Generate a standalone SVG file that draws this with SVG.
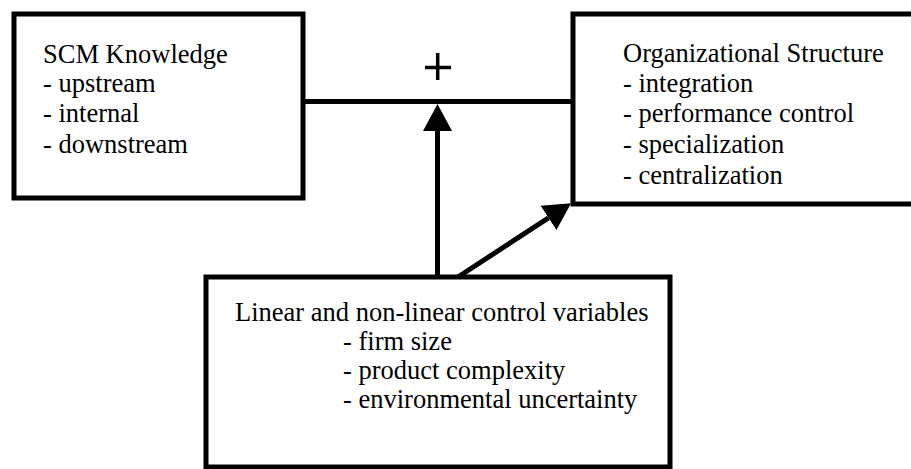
<svg xmlns="http://www.w3.org/2000/svg" width="911" height="469" viewBox="0 0 911 469">
  <defs>
    <style>
      .box { fill: #fff; stroke: #000; stroke-width: 5; }
      .lbl { font-family: "Liberation Serif", "Times New Roman", serif; font-size: 26.5px; fill: #000; }
      .wire { stroke: #000; stroke-width: 5; fill: none; }
      .plus { stroke: #000; stroke-width: 3.5; fill: none; }
    </style>
    <marker id="head" markerUnits="userSpaceOnUse" markerWidth="30" markerHeight="32" viewBox="0 -16 30 32" refX="0" refY="0" orient="auto">
      <path d="M0,-14.5 L27,0 L0,14.5 Z" fill="#000"/>
    </marker>
  </defs>
  <rect width="911" height="469" fill="#fff"/>

  <g id="connectors">
    <!-- link between the two upper boxes -->
    <line class="wire" x1="303" y1="101.5" x2="573" y2="101.5"/>
    <!-- moderation arrow onto the link -->
    <line class="wire" x1="437.5" y1="277" x2="437.5" y2="131" marker-end="url(#head)"/>
    <!-- control arrow into Organizational Structure -->
    <line class="wire" x1="458" y1="277" x2="548.5" y2="217.9" marker-end="url(#head)"/>
    <!-- positive sign -->
    <path class="plus" d="M425,67.5 H451 M437.7,53 V80"/>
  </g>

  <g id="scm-knowledge">
    <rect class="box" x="14" y="14" width="289" height="184"/>
    <text class="lbl" x="43" y="63">SCM Knowledge</text>
    <text class="lbl" x="43" y="92">- upstream</text>
    <text class="lbl" x="43" y="122">- internal</text>
    <text class="lbl" x="43" y="153">- downstream</text>
  </g>

  <g id="organizational-structure">
    <rect class="box" x="573" y="14" width="345" height="190"/>
    <text class="lbl" x="623" y="62">Organizational Structure</text>
    <text class="lbl" x="623" y="92">- integration</text>
    <text class="lbl" x="623" y="122">- performance control</text>
    <text class="lbl" x="623" y="153">- specialization</text>
    <text class="lbl" x="623" y="184">- centralization</text>
  </g>

  <g id="control-variables">
    <rect class="box" x="206" y="277" width="464" height="190"/>
    <text class="lbl" x="235" y="321">Linear and non-linear control variables</text>
    <text class="lbl" x="343" y="350">- firm size</text>
    <text class="lbl" x="343" y="379">- product complexity</text>
    <text class="lbl" x="343" y="408">- environmental uncertainty</text>
  </g>
</svg>
